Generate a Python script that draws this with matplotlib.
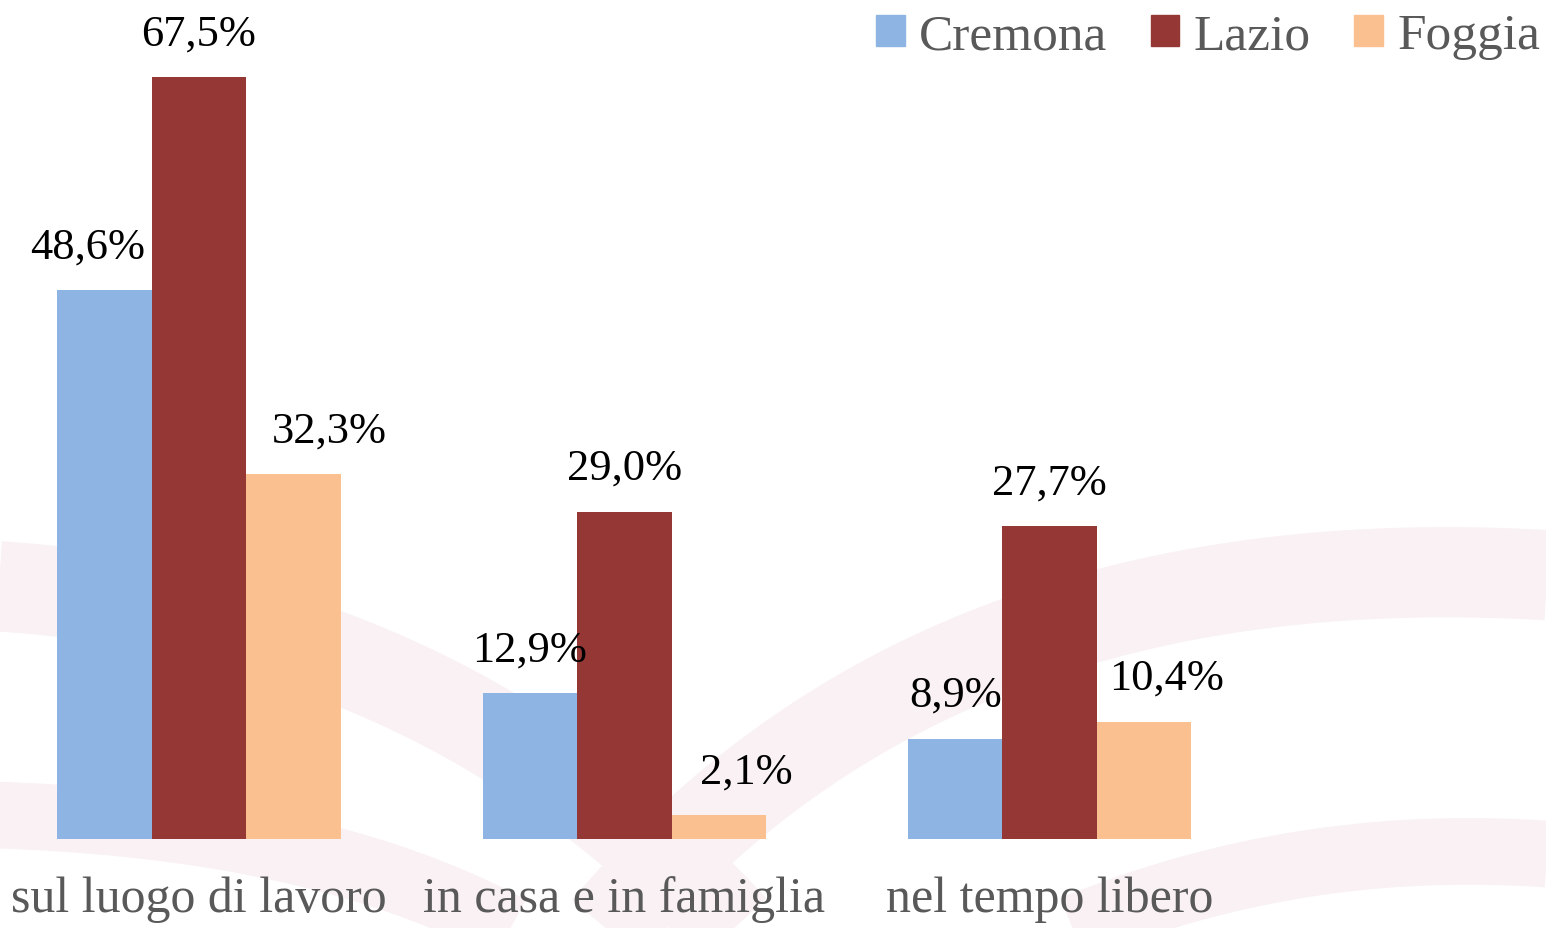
import numpy as np
import matplotlib.pyplot as plt
from matplotlib.patches import Patch

categories = ["sul luogo di lavoro", "in casa e in famiglia", "nel tempo libero"]
series = ["Cremona", "Lazio", "Foggia"]
cremona = [48.6, 12.9, 8.9]
lazio = [67.5, 29.0, 27.7]
foggia = [32.3, 2.1, 10.4]
labels = {
    "Cremona": ["48,6%", "12,9%", "8,9%"],
    "Lazio": ["67,5%", "29,0%", "27,7%"],
    "Foggia": ["32,3%", "2,1%", "10,4%"],
}
colors = ["#8eb4e3", "#953735", "#fac090"]

plt.rcParams['font.family'] = ['Liberation Serif', 'DejaVu Serif']

W, H = 1546, 929
fig = plt.figure(figsize=(W / 100, H / 100), dpi=100)


def swoosh(p0, p1, p2, lw):
    # quadratic bezier in pixel coords (origin top-left)
    t = np.linspace(0, 1, 80)[:, None]
    pts = (1 - t) ** 2 * np.array(p0) + 2 * (1 - t) * t * np.array(p1) + t ** 2 * np.array(p2)
    fig.add_artist(plt.Line2D(pts[:, 0] / W, 1 - pts[:, 1] / H, transform=fig.transFigure,
                              color="#f9f1f3", lw=lw, solid_capstyle="butt", zorder=0))


# faint background decoration
swoosh((-50, 585), (450, 600), (760, 960), 65)
swoosh((560, 990), (900, 520), (1600, 580), 65)
swoosh((-50, 815), (350, 820), (560, 960), 48)
swoosh((950, 990), (1250, 820), (1600, 860), 48)

ax = fig.add_axes([0, 89 / H, 1, 840 / H])
ax.patch.set_alpha(0)

x = np.arange(len(categories))
w = 0.222
vals = [cremona, lazio, foggia]
dxs = {"Cremona": [-12, 0, 0], "Lazio": [0, 0, 0], "Foggia": [26, 20, 16]}
for i, (name, v) in enumerate(zip(series, vals)):
    pos = x + (i - 1) * w
    ax.bar(pos, v, w, color=colors[i], label=name, zorder=2)
    for j in range(len(v)):
        ax.annotate(labels[name][j], (pos[j], v[j]), xytext=(dxs[name][j], 17),
                    textcoords="offset points", ha="center", va="bottom",
                    fontsize=32, color="black")

ax.set_xlim(-0.468, 3.167)
ax.set_ylim(0, 74.4)
ax.set_yticks([])
ax.set_xticks(x)
ax.set_xticklabels(categories, fontsize=36, color="#595959")
ax.tick_params(axis="x", length=0, pad=26)
for s in ax.spines.values():
    s.set_visible(False)

handles = [Patch(color=c, label=n) for c, n in zip(colors, series)]
fig.legend(handles=handles, loc="upper right", bbox_to_anchor=(1.026, 1.035), ncol=3,
           frameon=False, fontsize=37, labelcolor="#595959", handlelength=0.55,
           handleheight=0.55, handletextpad=0.28, columnspacing=0.85)

fig.savefig("out.png", dpi=100)
